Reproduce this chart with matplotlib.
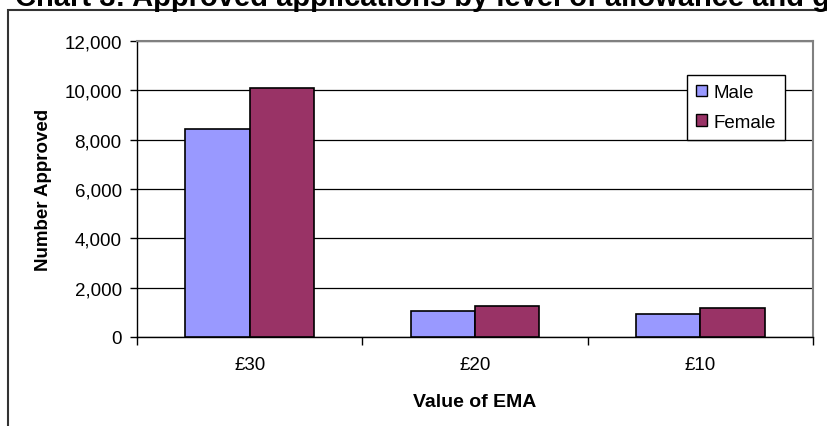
import matplotlib
matplotlib.use("Agg")
import matplotlib.pyplot as plt
from matplotlib.patches import Patch, Rectangle
import numpy as np

plt.rcParams['font.family'] = ['Liberation Sans', 'DejaVu Sans']

categories = ["£30", "£20", "£10"]
male = [8440, 1070, 950]
female = [10090, 1250, 1180]
series_names = ["Male", "Female"]
yticks = [0, 2000, 4000, 6000, 8000, 10000, 12000]
title = "Chart 3: Approved applications by level of allowance and gender"
xlabel = "Value of EMA"
ylabel = "Number Approved"

W, H = 828, 427
fig = plt.figure(figsize=(W / 100, H / 100), dpi=100)

# outer chart border
fig.patches.append(Rectangle((8 / W, -0.1), 1.2, 1 - 11 / H + 0.1, transform=fig.transFigure,
                             fill=False, edgecolor='#333333', linewidth=1.5, clip_on=False))

fig.text(15 / W, 1 - 6 / H, title, fontsize=21, fontweight='bold', ha='left', va='baseline')

ax = fig.add_axes([137 / W, 1 - 338 / H, (813 - 137) / W, (338 - 42) / H])
x = np.arange(len(categories))
w = 0.2857
ax.bar(x - w / 2, male, w, color='#9999FF', edgecolor='black', linewidth=1.2, zorder=3, label=series_names[0])
ax.bar(x + w / 2, female, w, color='#993366', edgecolor='black', linewidth=1.2, zorder=3, label=series_names[1])

ax.set_xlim(-0.5, len(categories) - 0.5)
ax.set_ylim(0, 12000)
ax.set_yticks(yticks)
ax.set_yticklabels([f"{v:,}" for v in yticks], fontsize=13.5)
ax.yaxis.grid(True, color='black', linewidth=0.9, zorder=0)
ax.set_axisbelow(True)

ax.set_xticks(x)
ax.set_xticklabels(categories, fontsize=13.5)
ax.set_xticks(np.arange(-0.5, len(categories)), minor=True)
ax.tick_params(axis='x', which='major', length=0, pad=14)
ax.tick_params(axis='x', which='minor', length=6, width=1, direction='out', color='black')
ax.tick_params(axis='y', which='major', length=5, width=1, direction='out', color='black', pad=6)

for s in ['top', 'right']:
    ax.spines[s].set_color('#808080')
    ax.spines[s].set_linewidth(1.5)
for s in ['left', 'bottom']:
    ax.spines[s].set_color('black')
    ax.spines[s].set_linewidth(1.0)

ax.set_xlabel(xlabel, fontsize=14, fontweight='bold', labelpad=14)
ax.set_ylabel(ylabel, fontsize=13.5, fontweight='bold', labelpad=9)

handles = [Patch(facecolor='#9999FF', edgecolor='black', linewidth=1),
           Patch(facecolor='#993366', edgecolor='black', linewidth=1)]
leg = ax.legend(handles, series_names, loc='upper left', bbox_to_anchor=((687 - 137) / 676, (338 - 76) / 296),
                fontsize=13.5, frameon=True, fancybox=False, edgecolor='black', framealpha=1,
                handlelength=0.55, handleheight=0.55, handletextpad=0.35, borderpad=0.5,
                labelspacing=0.65, borderaxespad=0)
leg.get_frame().set_linewidth(1.0)

fig.savefig("out.png", dpi=100)
